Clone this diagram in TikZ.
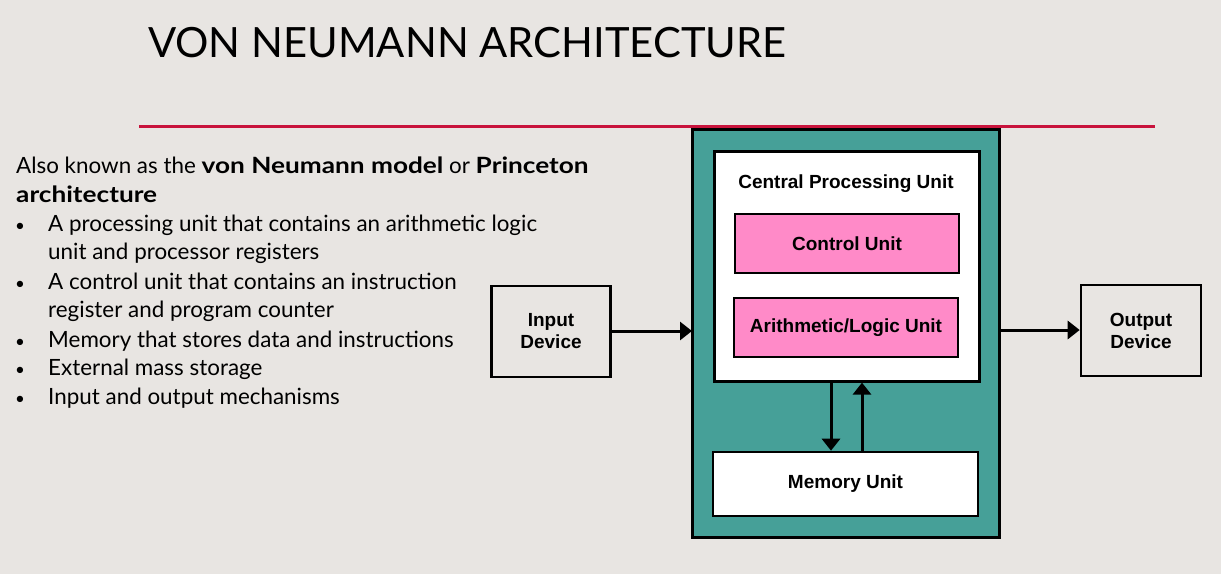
\documentclass[tikz,border=0pt]{standalone}
\usepackage{fontspec}
\setmainfont{Lato}[BoldFeatures={FakeStretch=1.17}]
\newfontfamily\diagfont{Liberation Sans}
\usetikzlibrary{arrows.meta}
\definecolor{slidebg}{RGB}{232,229,226}
\definecolor{rule}{RGB}{200,19,60}
\definecolor{teal}{RGB}{70,160,152}
\definecolor{unitpink}{RGB}{255,138,200}
\begin{document}
\begin{tikzpicture}[x=1pt,y=-1pt,
  box/.style={draw=black,line width=2.6pt},
  lbl/.style={font=\diagfont\bfseries\fontsize{19}{22}\selectfont,align=center,inner sep=0pt},
  body/.style={anchor=base west,inner sep=0pt,font=\fontsize{22.4}{29}\selectfont},
  flow/.style={line width=3pt,-{Triangle[width=18pt,length=12pt]}}]
\useasboundingbox (0,0) rectangle (1221,574);
\fill[slidebg] (0,0) rectangle (1221,574);

% title and rule
\node[anchor=base west,inner sep=0pt,font=\fontsize{41.7}{44}\selectfont] (title) at (148,57) {VON NEUMANN ARCHITECTURE};
\draw[rule,line width=3pt] (139,126) -- (1155,126);

% left-hand text
\node[body] (l1) at (16,173) {Also known as the \textbf{von Neumann model} or \textbf{Princeton}};
\node[body] (l2) at (16,202) {\textbf{architecture}};
\foreach \y/\t in {231/{A processing unit that contains an arithmetic logic},
                   289/{A control unit that contains an instruction},
                   347/{Memory that stores data and instructions},
                   375/{External mass storage},
                   404/{Input and output mechanisms}}{
  \node[body,font=\fontsize{17}{29}\selectfont] at (15,\y) {\textbullet};
  \node[body] at (48,\y) {\t};
}
\node[body] (l4) at (48,259) {unit and processor registers};
\node[body] (l6) at (48,317) {register and program counter};

% computer block
\draw[box,line width=3pt,fill=teal] (692,129) rectangle (999,537);
\node[box,fill=white,minimum width=265pt,minimum height=230pt,anchor=north west,inner sep=0pt] (cpu) at (713,150) {};
\node[lbl,anchor=base] (cpulbl) at (846,188) {Central Processing Unit};
\node[box,fill=unitpink,minimum width=224pt,minimum height=59pt,inner sep=0pt,lbl] (cu) at (847,243.5) {Control Unit};
\node[box,fill=unitpink,minimum width=224pt,minimum height=59pt,inner sep=0pt,lbl] (alu) at (846,327.5) {Arithmetic/Logic Unit};
\node[box,fill=white,minimum width=265pt,minimum height=64pt,inner sep=0pt,lbl] (mem) at (845.5,484) {Memory Unit};

\draw[flow] (cpu.south -| 831,0) -- (mem.north -| 831,0);
\draw[flow] (mem.north -| 862,0) -- (cpu.south -| 862,0);

% input / output devices
\node[box,fill=none,minimum width=119pt,minimum height=91pt,inner sep=0pt,lbl] (in) at (551,331.5) {Input\\Device};
\node[box,fill=none,minimum width=120pt,minimum height=91pt,inner sep=0pt,lbl] (out) at (1141,330.5) {Output\\Device};
\coordinate (blockL) at (692,331);
\coordinate (blockR) at (999,330);
\draw[flow] (in.east |- blockL) -- (blockL);
\draw[flow] (blockR) -- (out.west |- blockR);
\end{tikzpicture}
\end{document}
